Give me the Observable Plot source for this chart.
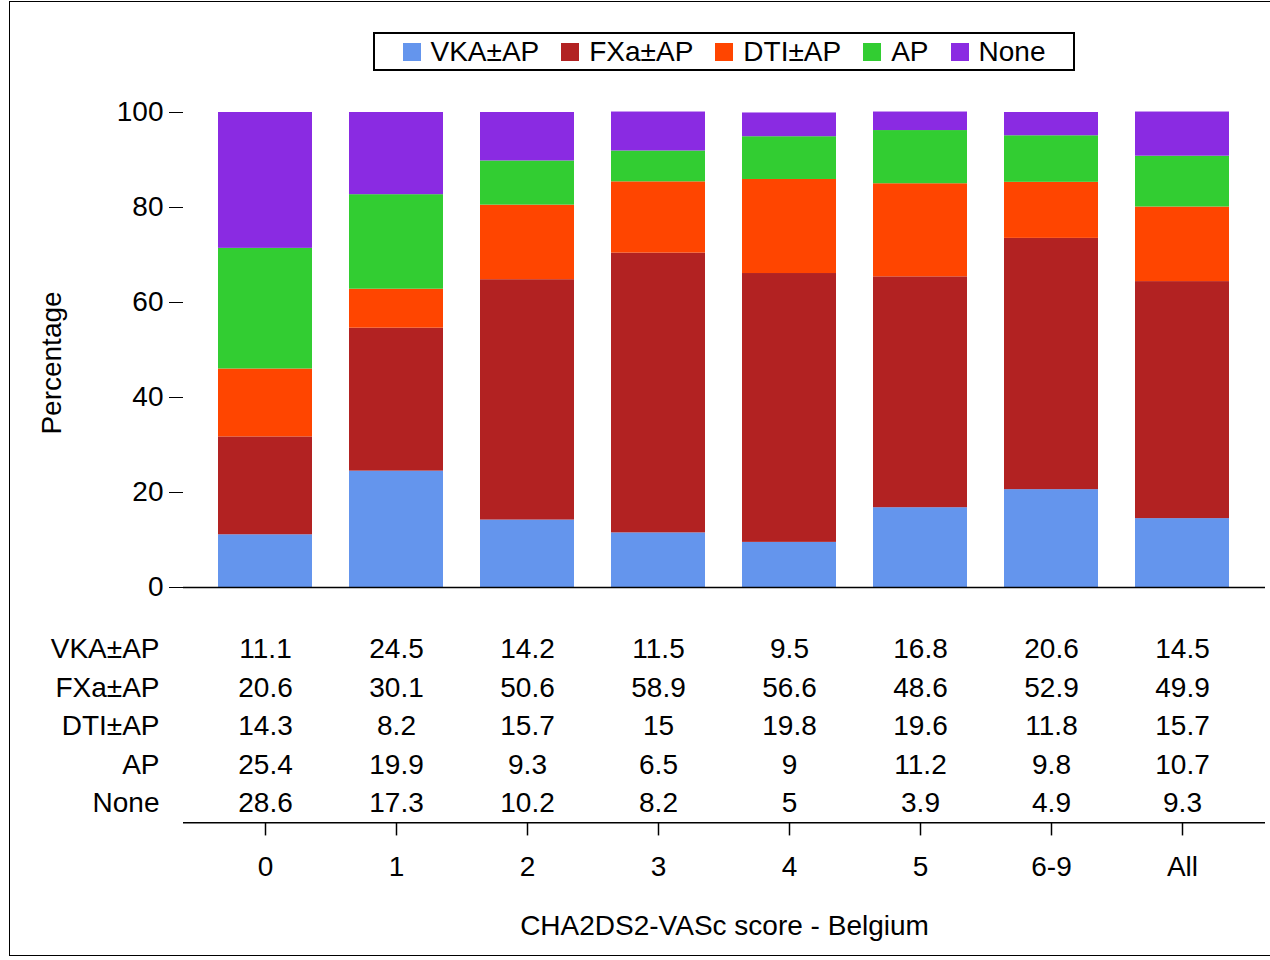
<!DOCTYPE html>
<html><head><meta charset="utf-8">
<script src="https://cdn.jsdelivr.net/npm/d3@7"></script>
<script src="https://cdn.jsdelivr.net/npm/@observablehq/plot@0.6"></script>
<style>
body{margin:0;font-family:"Liberation Sans",Arial,sans-serif;background:#fff}
#wrap{position:relative;width:1270px;height:960px;overflow:hidden}
#frame{position:absolute;left:9px;top:1px;width:1300px;height:955px;border:1.5px solid #000;box-sizing:border-box}
#legend{position:absolute;left:373px;top:32px;width:702px;height:39px;border:2px solid #000;box-sizing:border-box;display:flex;align-items:center;justify-content:center;gap:22px;font-size:28px}
#legend span.sw{display:inline-block;width:18px;height:18px;margin-right:10px;vertical-align:0px}
svg{position:absolute;left:0;top:0}
</style></head><body>
<div id="wrap"><div id="frame"></div><div id="legend"></div></div>
<script>
const categories = ["0","1","2","3","4","5","6-9","All"];
const series = ["VKA±AP","FXa±AP","DTI±AP","AP","None"];
const colors = ["#6495ED","#B22222","#FF4500","#32CD32","#8A2BE2"];
const vka  = [11.1,24.5,14.2,11.5,9.5,16.8,20.6,14.5];
const fxa  = [20.6,30.1,50.6,58.9,56.6,48.6,52.9,49.9];
const dti  = [14.3,8.2,15.7,15,19.8,19.6,11.8,15.7];
const ap   = [25.4,19.9,9.3,6.5,9,11.2,9.8,10.7];
const none = [28.6,17.3,10.2,8.2,5,3.9,4.9,9.3];
const values = [vka,fxa,dti,ap,none];
const xTitle = "CHA2DS2-VASc score - Belgium";

const data = [];
series.forEach((s,i)=>categories.forEach((c,j)=>data.push({s,c,v:values[i][j],row:i})));
const rowY = i => -13.05 - i*8.1;

const leg = document.getElementById("legend");
series.forEach((s,i)=>{const d=document.createElement("div");d.innerHTML=`<span class="sw" style="background:${colors[i]}"></span>${s}`;leg.appendChild(d);});

const fs = "28px";
const plot = Plot.plot({
  width:1270, height:960, marginTop:112, marginBottom:373, marginLeft:183, marginRight:5,
  style:{fontFamily:"Liberation Sans, Arial, sans-serif", fontSize:fs, background:"transparent", overflow:"visible"},
  x:{domain:categories, range:[197.15,1250.75], paddingInner:0.28, paddingOuter:0.14, axis:null},
  y:{domain:[0,100], label:null},
  color:{domain:series, range:colors},
  marks:[
    Plot.barY(data,{x:"c",y:"v",fill:"s",order:series}),
    Plot.axisY({ticks:[0,20,40,60,80,100],tickSize:14,tickPadding:6,fontSize:fs,label:null}),
    Plot.text(["Percentage"],{frameAnchor:"left",textAnchor:"middle",dx:-131,dy:13,rotate:-90,fontSize:fs}),
    Plot.ruleY([0],{strokeWidth:1.5}),
    Plot.text(data,{x:"c",y:d=>rowY(d.row),text:d=>String(d.v),fontSize:fs}),
    Plot.text(series,{x:()=>"0",y:(d,i)=>rowY(i),text:d=>d,dx:-106,textAnchor:"end",fontSize:fs}),
    Plot.ruleY([-49.5],{strokeWidth:1.5}),
    Plot.ruleX(categories,{x:d=>d,y1:-49.5,y2:-52.3,strokeWidth:1.5}),
    Plot.text(categories,{x:d=>d,y:-58.9,text:d=>d,fontSize:fs}),
    Plot.text([xTitle],{frameAnchor:"bottom",dy:347,fontSize:fs})
  ]
});
document.getElementById("wrap").appendChild(plot);
</script></body></html>
